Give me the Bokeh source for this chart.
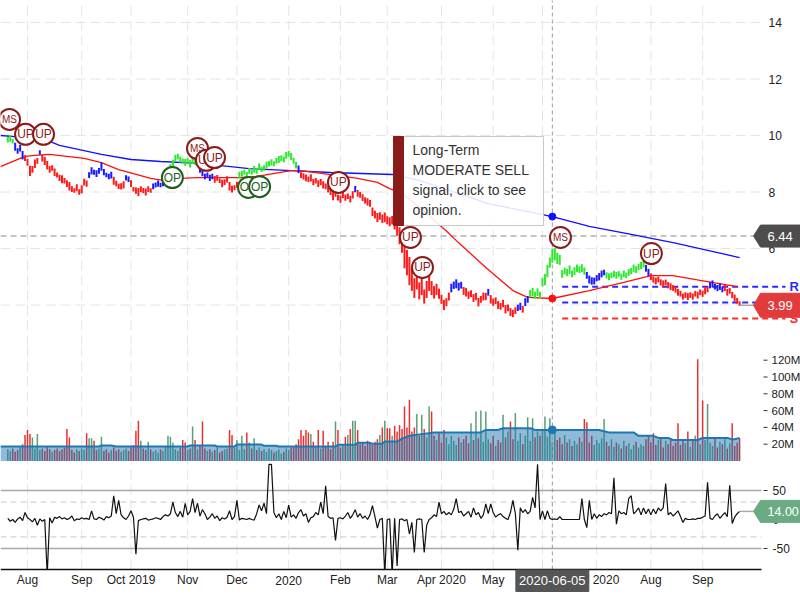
import numpy as np
import pandas as pd
from bokeh.plotting import figure
from bokeh.layouts import column
from bokeh.models import Range1d
from bokeh.core.properties import value
from bokeh.embed import file_html
from bokeh.resources import INLINE

# ---------------- data ----------------
market_holidays = ["2019-09-02", "2019-11-28", "2019-12-25", "2020-01-01", "2020-01-20",
                   "2020-02-17", "2020-04-10", "2020-05-25", "2020-07-03", "2020-09-07"]
first_day, last_day = "2019-07-22", "2020-09-23"
month_labels = ["Aug", "Sep", "Oct 2019", "Nov", "Dec", "2020", "Feb", "Mar",
                "Apr 2020", "May", "Jun", "Jul 2020", "Aug", "Sep"]

price_mid = [
    9.85, 9.9, 9.8, 9.6, 9.45, 9.55, 9.3, 9.2, 9.05, 8.75,
    8.8, 9.0, 9.1, 9.4, 9.2, 9.1, 8.95, 8.8, 8.85, 8.7,
    8.6, 8.5, 8.45, 8.4, 8.3, 8.2, 8.1, 8.05, 8.15, 8.0,
    8.1, 8.35, 8.3, 8.6, 8.75, 8.7, 8.65, 8.75, 8.9, 8.7,
    8.6, 8.55, 8.6, 8.4, 8.3, 8.2, 8.2, 8.25, 8.5, 8.45,
    8.3, 8.1, 8.05, 8.0, 8.1, 8.05, 8.0, 8.1, 8.05, 8.2,
    8.25, 8.3, 8.25, 8.3, 8.5, 8.7, 8.85, 9.0, 9.2, 9.25,
    9.15, 9.1, 9.05, 9.1, 9.0, 9.1, 9.05, 9.15, 8.8, 8.7,
    8.55, 8.6, 8.5, 8.55, 8.45, 8.5, 8.4, 8.3, 8.35, 8.45,
    8.2, 8.1, 8.15, 8.25, 8.6, 8.65, 8.7, 8.6, 8.75, 8.7,
    8.8, 8.75, 8.9, 8.8, 8.85, 8.95, 9.0, 9.05, 9.0, 9.1,
    9.15, 9.2, 9.15, 9.3, 9.35, 9.25, 9.1, 8.95, 8.8, 8.6,
    8.55, 8.5, 8.45, 8.5, 8.35, 8.4, 8.3, 8.35, 8.25, 8.2,
    8.1, 8.0, 7.85, 7.95, 7.8, 7.75, 7.9, 7.8, 7.85, 7.75,
    7.9, 8.1, 7.95, 7.9, 7.8, 7.7, 7.65, 7.6, 7.3, 7.2,
    7.1, 7.15, 7.05, 7.1, 7.0, 6.95, 7.0, 6.85, 6.7, 6.45,
    6.2, 5.7, 5.5, 5.2, 4.9, 4.6, 5.0, 4.5, 4.7, 4.3,
    4.55, 4.8, 4.6, 4.45, 4.55, 4.4, 4.2, 4.0, 4.1, 4.3,
    4.6, 4.7, 4.75, 4.65, 4.7, 4.5, 4.45, 4.35, 4.4, 4.25,
    4.3, 4.1, 4.2, 4.3, 4.3, 4.45, 4.2, 4.1, 4.15, 4.0,
    3.95, 4.05, 3.85, 3.9, 3.75, 3.7, 3.8, 3.9, 3.95, 3.85,
    4.1, 4.2, 4.4, 4.45, 4.35, 4.45, 4.35, 4.8, 4.9, 5.2,
    5.5, 5.75, 5.8, 5.65, 5.6, 5.1, 5.2, 5.15, 5.25, 5.1,
    5.2, 5.3, 5.25, 5.3, 5.2, 5.05, 4.9, 4.85, 4.85, 4.95,
    5.0, 5.1, 5.15, 5.05, 5.0, 5.05, 5.1, 5.05, 5.1, 5.0,
    5.1, 5.05, 5.15, 5.2, 5.3, 5.25, 5.35, 5.4, 5.45, 5.3,
    5.15, 5.0, 4.9, 4.85, 4.9, 4.8, 4.75, 4.8, 4.7, 4.65,
    4.6, 4.55, 4.45, 4.4, 4.3, 4.35, 4.3, 4.35, 4.3, 4.4,
    4.35, 4.45, 4.4, 4.5, 4.55, 4.7, 4.75, 4.65, 4.6, 4.65,
    4.55, 4.6, 4.45, 4.5, 4.35, 4.25, 4.15, 4.05]

price_half_range = [
    .10, .12, .08, .14, .10, .12, .15, .10, .12, .18,
    .12, .15, .10, .08, .12, .14, .15, .12, .10, .13,
    .09, .11, .14, .10, .12, .15, .10, .08, .12, .10,
    .14, .12, .11, .10, .13, .09, .12, .10, .15, .11,
    .08, .10, .12, .14, .10, .09, .11, .13, .09, .10,
    .12, .08, .11, .14, .10, .09, .12, .10, .08, .10,
    .09, .11, .08, .10, .12, .15, .13, .14, .12, .10,
    .11, .09, .12, .10, .13, .11, .09, .10, .12, .14,
    .10, .09, .11, .10, .12, .10, .08, .13, .10, .11,
    .15, .12, .09, .11, .12, .10, .09, .11, .10, .08,
    .12, .10, .11, .09, .10, .12, .10, .11, .09, .10,
    .12, .10, .11, .12, .10, .13, .10, .12, .14, .10,
    .11, .12, .10, .13, .11, .10, .12, .11, .13, .10,
    .12, .11, .14, .12, .10, .13, .12, .11, .10, .12,
    .13, .11, .12, .10, .12, .11, .13, .12, .15, .14,
    .16, .13, .15, .17, .14, .16, .15, .18, .25, .30,
    .35, .40, .45, .50, .40, .35, .45, .30, .35, .25,
    .30, .30, .25, .22, .20, .18, .16, .18, .14, .14,
    .15, .13, .16, .14, .12, .14, .15, .13, .12, .14,
    .13, .15, .12, .14, .13, .12, .15, .13, .12, .14,
    .12, .13, .15, .12, .14, .13, .12, .11, .13, .12,
    .14, .12, .13, .15, .12, .14, .12, .15, .20, .22,
    .18, .25, .22, .20, .18, .14, .12, .13, .15, .12,
    .14, .13, .12, .14, .13, .12, .14, .13, .12, .11,
    .13, .12, .10, .11, .12, .10, .11, .12, .10, .11,
    .12, .10, .12, .11, .13, .12, .11, .13, .12, .12,
    .13, .12, .11, .12, .10, .11, .12, .10, .11, .12,
    .10, .11, .12, .10, .11, .10, .12, .10, .11, .10,
    .12, .10, .11, .12, .10, .11, .12, .10, .11, .12,
    .10, .11, .12, .10, .11, .12, .10, .08]

# trend state of each bar: g = bullish, b = neutral, r = bearish (run lengths)
bar_state_runs = [("g", 3), ("b", 4), ("r", 6), ("b", 1), ("r", 19), ("b", 10), ("r", 5),
                  ("b", 2), ("r", 9), ("b", 5), ("g", 14), ("b", 6), ("r", 10), ("g", 24),
                  ("b", 1), ("r", 22), ("b", 1), ("r", 38), ("b", 5), ("r", 10), ("b", 1),
                  ("r", 11), ("b", 2), ("r", 1), ("b", 2), ("g", 23), ("b", 8), ("g", 16),
                  ("b", 2), ("r", 24), ("b", 6), ("r", 7)]

volume_millions = [
    14, 12, 15, 11, 13, 16, 20, 31, 37, 32,
    28, 15, 32, 13, 15, 12, 18, 14, 11, 13,
    15, 12, 14, 16, 38, 28, 13, 10, 14, 12,
    15, 13, 33, 27, 27, 24, 13, 15, 29, 12,
    14, 10, 13, 16, 12, 14, 11, 13, 15, 12,
    16, 19, 36, 48, 24, 15, 13, 23, 14, 11,
    13, 10, 14, 12, 17, 30, 29, 22, 14, 12,
    16, 25, 22, 13, 15, 41, 25, 14, 18, 47,
    15, 12, 14, 11, 13, 16, 10, 12, 14, 15,
    37, 31, 16, 25, 13, 30, 14, 34, 22, 15,
    27, 13, 16, 12, 14, 11, 15, 13, 10, 12,
    14, 9, 11, 15, 13, 16, 18, 20, 26, 37,
    30, 37, 34, 32, 23, 17, 37, 15, 36, 18,
    23, 14, 23, 47, 37, 16, 19, 29, 31, 38,
    48, 48, 37, 20, 22, 18, 24, 21, 19, 23,
    26, 31, 40, 48, 39, 39, 30, 42, 35, 43,
    38, 65, 40, 73, 35, 40, 56, 30, 55, 38,
    28, 65, 59, 30, 25, 33, 22, 37, 28, 20,
    30, 24, 19, 28, 22, 26, 30, 21, 45, 25,
    59, 27, 60, 23, 59, 26, 21, 30, 18, 25,
    22, 55, 28, 35, 47, 26, 57, 24, 33, 20,
    30, 52, 24, 51, 28, 35, 30, 38, 53, 29,
    51, 22, 33, 25, 28, 20, 31, 22, 26, 18,
    24, 20, 28, 23, 50, 46, 22, 30, 19, 25,
    21, 27, 50, 23, 18, 26, 17, 22, 20, 15,
    24, 18, 21, 14, 19, 23, 16, 20, 18, 26,
    30, 22, 33, 19, 25, 28, 16, 24, 20, 27,
    18, 22, 45, 19, 25, 21, 35, 17, 24, 30,
    121, 20, 72, 25, 68, 22, 18, 27, 16, 23,
    20, 26, 15, 21, 45, 18, 22, 27]

oscillator = [
    2, -3, 0, -5, 1, 4, -2, 12, 3, 0,
    -4, 2, -10, 1, -3, 0, -95, 3, -6, 4,
    2, 5, 1, 3, 0, 2, 6, -2, 1, 0,
    3, 1, 2, 0, 15, 1, 0, 4, 2, -1,
    5, 3, 6, 41, 10, 33, 8, 3, 0, 6,
    15, 4, -60, -2, 0, 1, 2, -1, 0, 1,
    3, 2, 0, 5, 8, 6, 10, 30, 12, 5,
    14, 4, 28, 8, 14, 36, 12, 28, 6, 17,
    10, 0, 4, 10, 2, 6, -2, 3, 1, 4,
    15, 0, 5, 33, -1, 2, 1, 0, 2, 0,
    -1, 10, 25, 15, 28, 10, 95, 95, 12, 3,
    10, 0, 14, 3, 25, 4, 8, 2, 12, 17,
    6, 10, -5, 3, 5, 12, 8, 30, 10, 58,
    5, 2, 3, -36, 2, 3, 1, 6, 12, 2,
    8, 17, 4, 10, 2, 6, 0, 8, 24, 5,
    -15, 0, 2, -95, 0, 1, -95, 2, -80, 0,
    1, -2, 0, -25, -5, -57, 0, 1, 0, -57,
    -10, 0, 3, 8, 5, 30, 10, 14, 8, 12,
    8, 18, 36, 12, 14, 6, 10, 14, 4, 20,
    8, 12, 2, 8, 27, 10, 27, 12, 4, 8,
    10, 5, 2, 0, 12, 33, 10, -53, 20, 12,
    17, 10, 14, 38, 20, 95, 0, 15, 0, 15,
    2, 0, 1, 0, 5, 0, 0, 0, 0, 0,
    0, 0, 0, 36, 0, -14, 33, 0, 10, 2,
    8, 5, 10, 8, 12, 10, 72, -8, 15, 10,
    12, 8, 36, 41, 10, 14, 20, 8, 20, 10,
    18, 8, 18, 10, 20, 15, 20, 62, 8, 12,
    6, 10, 15, 5, -5, 2, 0, 0, 1, 0,
    2, 2, 4, 6, 64, 2, 0, 6, 10, 2,
    7, 12, 5, 59, -7, 4, 10, 14]

long_ma_idx = [-3, 3, 15, 21, 38, 50, 62, 78, 98, 115, 131, 156, 167, 195, 221, 236, 253, 270, 297]
long_ma = [10.0, 9.96, 9.86, 9.65, 9.33, 9.15, 9.08, 9.01, 8.83, 8.76, 8.69, 8.62, 8.41, 7.59,
           7.13, 6.78, 6.50, 6.21, 5.68]
mid_ma_idx = [-3, 7, 11, 17, 31, 38, 45, 51, 58, 63, 70, 77, 94, 101, 115, 119, 128, 142, 150, 155,
              160, 165, 170, 178, 183, 194, 205, 211, 221, 236, 250, 261, 270, 281, 296]
mid_ma = [8.90, 9.26, 9.30, 9.33, 9.19, 9.04, 8.79, 8.65, 8.48, 8.41, 8.48, 8.51, 8.51, 8.55, 8.76,
          8.76, 8.65, 8.48, 8.34, 8.12, 7.95, 7.6, 7.24, 6.62, 6.2, 5.33, 4.51, 4.27, 4.23, 4.51,
          4.80, 5.04, 5.04, 4.87, 4.65]
vol_ma_idx = [-3, 37, 38, 42, 44, 73, 74, 84, 85, 92, 93, 103, 104, 109, 110, 133, 134, 141, 142, 147,
              148, 152, 153, 158, 160, 163, 168, 173, 192, 194, 199, 201, 212, 214, 240, 244, 254, 256,
              262, 264, 268, 270, 280, 282, 292, 294, 295, 297]
vol_ma = [17.3, 17.3, 18.4, 18.4, 17.3, 17.3, 18.4, 18.4, 17.3, 17.3, 19.6, 19.6, 18.1, 18.1, 17.3,
          17.3, 19.2, 19.2, 21.6, 21.6, 20.4, 20.4, 23.2, 23.2, 26.6, 30, 32, 34, 34, 37, 37, 39, 39,
          37, 37, 34, 34, 30, 30, 27.5, 27.5, 25, 25, 27.5, 27.5, 26, 26, 27.5]

signal_idx = [0.7, 7.2, 14.5, 66.8, 77.0, 80.6, 83.9, 97.7, 102.2, 134.2, 163.4, 168.3, 224.3, 261.2]
signal_price = [10.57, 10.04, 10.04, 8.51, 9.54, 9.12, 9.22, 8.16, 8.19, 8.34, 6.39, 5.33, 6.39, 5.82]
signal_kind = ["MS", "UP", "UP", "OP", "MS", "UP", "UP", "OP", "OP", "UP", "UP", "UP", "MS", "UP"]

resistance_levels = [4.65, 4.09]
support_levels = [3.52]
levels_from = "2020-06-11"
cursor_date = "2020-06-05"
cursor_price = 6.44
last_close = 3.99
last_osc = 14.00
price_ticks = [4, 6, 8, 10, 12, 14]
volume_ticks = [20, 40, 60, 80, 100, 120]
volume_tick_labels = ["20M", "40M", "60M", "80M", "100M", "120M"]
osc_ticks = [50, 0, -50]
osc_tick_labels = ["50", "0", "-50"]
osc_bands_solid = [50, -50]
osc_bands_dashed = [30, -30]
tooltip_lines = ["Long-Term", "MODERATE SELL", "signal, click to see", "opinion."]

# ---------------- derived ----------------
dates = pd.bdate_range(first_day, last_day)
dates = dates[~dates.isin(pd.to_datetime(market_holidays))]
n = min(len(dates), len(price_mid), len(price_half_range), len(volume_millions), len(oscillator))
idx = np.arange(n)
mid = np.array(price_mid[:n]); half = np.array(price_half_range[:n])
state_col = {"g": "#2de82d", "b": "#1a1aff", "r": "#ff1a1a"}
bar_colors = [state_col[c] for c, k in bar_state_runs for _ in range(k)][:n]
bar_colors += ["#ff1a1a"] * (n - len(bar_colors))
vol = np.array(volume_millions[:n])
vol_colors = ["#5a9e76" if (i == 0 or mid[i] >= mid[i - 1]) else "#e8312f" for i in range(n)]
osc_v = np.array(oscillator[:n])
month_idx = [i for i in range(1, len(dates)) if dates[i].month != dates[i - 1].month]
cur_i = int(dates.get_loc(pd.Timestamp(cursor_date)))
lev_i = int(dates.get_loc(pd.Timestamp(levels_from)))

# ---------------- layout helpers (canvas pixels -> data) ----------------
X0, DX = 7.29, 2.464
def jx(px): return (px - X0) / DX
def py(y): return 14 - (y - 22) / 28.25
def ppx(p): return 22 + (14 - p) * 28.25
def vy(y): return (460.5 - y) / 0.84
def oy(y): return (519 - y) / 0.58
def opx(v): return 519 - v * 0.58

FONT = value("Liberation Sans")
GRID = "#e4e4e4"
xr = Range1d(jx(0), jx(800))

def make_fig(h, yr, grid_bottom=None):
    f = figure(width=800, height=h, x_range=xr, y_range=yr, output_backend="svg",
               toolbar_location=None, title=None, min_border=0,
               x_axis_location=None, y_axis_location=None)
    f.grid.visible = False
    f.outline_line_color = None
    f.background_fill_color = "white"
    f.border_fill_color = "white"
    gb = yr.start if grid_bottom is None else grid_bottom
    f.segment(x0=month_idx, y0=gb, x1=month_idx, y1=yr.end, line_color=GRID,
              line_dash="10 5", line_width=1)
    return f

def tag(f, yconv, yc_px, h, color, text, text_px, size="13px"):
    xs = [jx(753), jx(760), jx(801), jx(801), jx(760)]
    ys = [yconv(yc_px), yconv(yc_px - h / 2), yconv(yc_px - h / 2), yconv(yc_px + h / 2), yconv(yc_px + h / 2)]
    f.patch(xs, ys, fill_color=color, line_color=color)
    f.text(x=[jx(text_px)], y=[yconv(yc_px)], text=[text], text_color="white", text_font=FONT,
           text_font_size=size, text_align="left", text_baseline="middle")

# ---------------- price panel ----------------
p1 = make_fig(345, Range1d(py(345), py(0)))
p1.segment(x0=xr.start, y0=price_ticks, x1=jx(762), y1=price_ticks, line_color=GRID,
           line_dash="10 5", line_width=1)
p1.text(x=jx(768), y=price_ticks, text=[str(t) for t in price_ticks], text_font=FONT,
        text_font_size="12px", text_color="#222222", text_align="left", text_baseline="middle")
for lv in resistance_levels:
    p1.line([lev_i, jx(785)], [lv, lv], line_color="#2a2aff", line_dash="6 4", line_width=2)
for lv in support_levels:
    p1.line([lev_i, jx(785)], [lv, lv], line_color="#ff2a2a", line_dash="6 4", line_width=2)
p1.text(x=jx(789), y=resistance_levels, text=["R"] * len(resistance_levels), text_color="#2a2aff",
        text_font=FONT, text_font_size="13px", text_font_style="bold", text_baseline="middle")
p1.text(x=jx(789), y=support_levels, text=["S"] * len(support_levels), text_color="#ff2a2a",
        text_font=FONT, text_font_size="13px", text_font_style="bold", text_baseline="middle")
p1.line([xr.start, jx(753)], [cursor_price, cursor_price], line_color="#c4c4c4", line_dash="6 4", line_width=2)
p1.line([cur_i, cur_i], [py(345), py(0)], line_color="#9a9a9a", line_dash="4 3", line_width=1)
p1.line(long_ma_idx, long_ma, line_color="#1010ff", line_width=1.3)
p1.line(mid_ma_idx, mid_ma, line_color="#ff1010", line_width=1.3)
p1.segment(x0=idx, y0=mid - half, x1=idx, y1=mid + half, line_color=bar_colors, line_width=2)
for sj, sp, sk in zip(signal_idx, signal_price, signal_kind):
    col = "#1e5e1e" if sk == "OP" else "#8b1a1a"
    p1.scatter([sj], [sp], marker="circle", size=21, fill_color="white", line_color=col, line_width=2)
    p1.text(x=[sj], y=[sp], text=[sk], text_color=col, text_font=FONT,
            text_font_size="10px" if sk == "MS" else "12px",
            text_align="center", text_baseline="middle")
p1.scatter([cur_i], [np.interp(cur_i, long_ma_idx, long_ma)], size=7, fill_color="#1010ff", line_color="#1010ff")
p1.scatter([cur_i], [np.interp(cur_i, mid_ma_idx, mid_ma)], size=7, fill_color="#ff1010", line_color="#ff1010")
p1.line([n - 1, jx(753)], [last_close, last_close], line_color="#aaaaaa", line_width=1.5)
tag(p1, py, ppx(cursor_price), 22, "#4d4d4d", f"{cursor_price:.2f}", 767)
tag(p1, py, ppx(last_close), 24, "#e23b3b", f"{last_close:.2f}", 767)
p1.quad(left=jx(393), right=jx(543), top=py(136), bottom=py(225), fill_color="white",
        fill_alpha=0.88, line_color="#c8c8c8", line_width=1)
p1.quad(left=jx(393), right=jx(403), top=py(136), bottom=py(225), fill_color="#8b1a1a",
        line_color="#8b1a1a")
p1.text(x=jx(412), y=[py(149 + 20.3 * k) for k in range(len(tooltip_lines))], text=tooltip_lines,
        text_font=FONT, text_font_size="14px", text_color="#333333", text_align="left",
        text_baseline="middle")

# ---------------- volume panel ----------------
p2 = make_fig(116, Range1d(vy(461), vy(345)))
p2.segment(x0=idx, y0=0, x1=idx, y1=vol, line_color=vol_colors, line_width=1.5)
p2.varea(x=vol_ma_idx, y1=0, y2=vol_ma, fill_color="#1f77b4", fill_alpha=0.5)
p2.line(vol_ma_idx, vol_ma, line_color="#1f77b4", line_width=2)
p2.line([cur_i, cur_i], [vy(461), vy(345)], line_color="#9a9a9a", line_dash="4 3", line_width=1)
p2.scatter([cur_i], [np.interp(cur_i, vol_ma_idx, vol_ma)], size=8, fill_color="#1f77b4", line_color="#1f77b4")
p2.segment(x0=jx(763), y0=volume_ticks, x1=jx(767), y1=volume_ticks, line_color="#333333", line_width=1)
p2.text(x=jx(771), y=volume_ticks, text=volume_tick_labels, text_font=FONT, text_font_size="11.5px",
        text_color="#222222", text_align="left", text_baseline="middle")

# ---------------- oscillator panel + date axis ----------------
p3 = make_fig(139, Range1d(oy(600), oy(461)), grid_bottom=oy(569))
p3.segment(x0=xr.start, y0=osc_bands_solid, x1=jx(761), y1=osc_bands_solid, line_color="#a8a8a8", line_width=1.5)
p3.segment(x0=xr.start, y0=osc_bands_dashed, x1=jx(761), y1=osc_bands_dashed, line_color="#c8c8c8",
           line_dash="6 4", line_width=1)
p3.line([cur_i, cur_i], [oy(569), oy(461)], line_color="#9a9a9a", line_dash="4 3", line_width=1)
p3.line(idx, osc_v, line_color="#111111", line_width=1.2)
# area of the date axis (masks the oscillator below the axis line)
p3.quad(left=xr.start, right=xr.end, bottom=oy(600), top=oy(569), fill_color="white", line_color=None)
p3.line([xr.start, jx(761)], [oy(569), oy(569)], line_color="#111111", line_width=1.5)
p3.text(x=month_idx, y=oy(579.5), text=month_labels[:len(month_idx)], text_font=FONT,
        text_font_size="12px", text_color="#222222", text_align="center", text_baseline="middle")
p3.segment(x0=jx(763), y0=osc_ticks, x1=jx(767), y1=osc_ticks, line_color="#333333", line_width=1)
p3.text(x=jx(772), y=osc_ticks, text=osc_tick_labels, text_font=FONT, text_font_size="12px",
        text_color="#222222", text_align="left", text_baseline="middle")
p3.line([n - 1, jx(753)], [last_osc, last_osc], line_color="#aaaaaa", line_width=1.5)
tag(p3, oy, opx(last_osc), 22, "#6aab84", f"{last_osc:.2f}", 767, "12.5px")
half_w = 36.5 / DX
p3.quad(left=cur_i - half_w, right=cur_i + half_w, bottom=oy(591), top=oy(569.5),
        fill_color="#555555", line_color="#555555")
p3.text(x=[cur_i], y=[oy(580)], text=[cursor_date], text_font=FONT, text_font_size="13px",
        text_color="white", text_align="center", text_baseline="middle")

layout = column(p1, p2, p3, spacing=0)
open("out.html", "w").write(file_html(layout, INLINE))
